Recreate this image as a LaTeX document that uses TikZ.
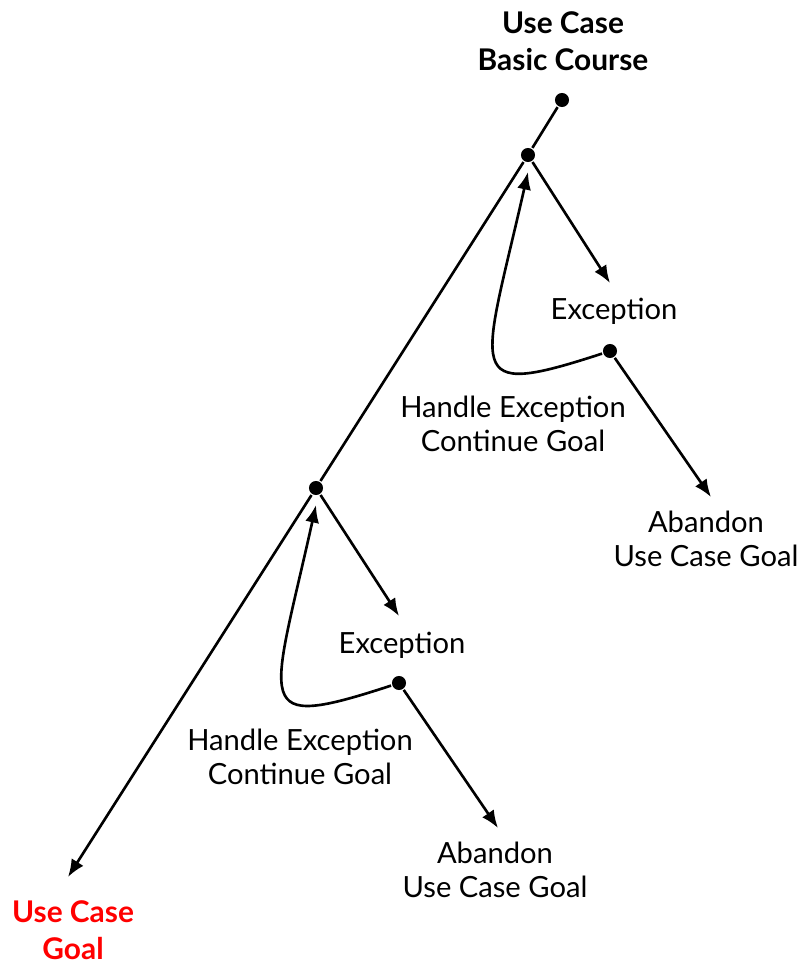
\documentclass[tikz,border=0pt]{standalone}
\usepackage{fontspec}
\setmainfont{Lato}
\usetikzlibrary{arrows.meta}
\begin{document}
\begin{tikzpicture}[x=0.02cm, y=-0.02cm, line width=1.5pt,
    dot/.style={circle, fill, inner sep=0pt, minimum size=8pt},
    lbl/.style={align=center, font=\fontsize{16.6pt}{19.3pt}\selectfont},
    head/.style={align=center, font=\fontsize{17pt}{21pt}\selectfont\bfseries},
    >={Latex[length=10pt, width=8pt]}]
    \useasboundingbox (0,0) rectangle (798,965);

    % labels
    \node[head] (title) at (563,41) {Use Case\\Basic Course};
    \node[head, text=red] (goal) at (73,930) {Use Case\\Goal};
    \node[lbl] (exc1) at (614,311) {Exception};
    \node[lbl] (hand1) at (513,424) {Handle Exception\\Continue Goal};
    \node[lbl] (aban1) at (706,539) {Abandon\\Use Case Goal};
    \node[lbl] (exc2) at (402,645) {Exception};
    \node[lbl] (hand2) at (300,757) {Handle Exception\\Continue Goal};
    \node[lbl] (aban2) at (495,870) {Abandon\\Use Case Goal};

    % dots
    \node[dot] (start) at (562,100) {};
    \node[dot] (d1) at (528,155) {};
    \node[dot] (d2) at (316,488) {};
    \node[dot] (e1) at (610,351) {};
    \node[dot] (e2) at (399,683) {};

    % arrow ends
    \coordinate (goaltip) at (68,877);
    \coordinate (exc1tip) at (610,283);
    \coordinate (exc2tip) at (399,616);
    \coordinate (aban1tip) at (711,497);
    \coordinate (aban2tip) at (498,828);
    \coordinate (back1tip) at (528,172);
    \coordinate (back2tip) at (316,505);

    \draw (start) -- (d1) -- (d2);
    \draw[->] (d2) -- (goaltip);
    \draw[->] (d1) -- (exc1tip);
    \draw[->] (e1) -- (aban1tip);
    \draw[->] (e1) .. controls (460,400) and (482,375) .. (back1tip);
    \draw[->] (d2) -- (exc2tip);
    \draw[->] (e2) -- (aban2tip);
    \draw[->] (e2) .. controls (249,732) and (271,708) .. (back2tip);
\end{tikzpicture}
\end{document}
